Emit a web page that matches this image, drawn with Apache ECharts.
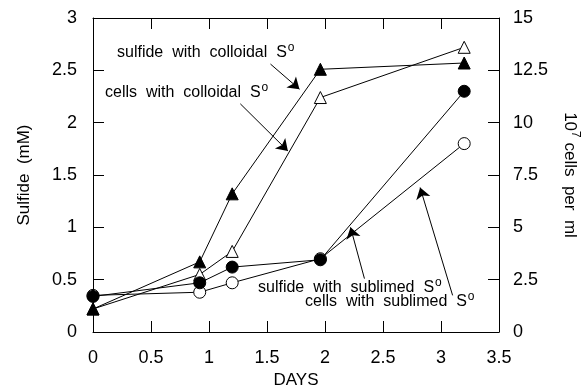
<!DOCTYPE html>
<html>
<head>
<meta charset="utf-8">
<script src="https://cdn.jsdelivr.net/npm/echarts@6/dist/echarts.min.js"></script>
<style>
  html, body { margin: 0; padding: 0; background: #fff; }
  #chart { width: 585px; height: 389px; }
</style>
</head>
<body>
<div id="chart"></div>
<script>
// sampling days
const days = [0, 0.92, 1.2, 1.96, 3.2]
// sulfide (mM), left axis
const sulfideColloidal = [0.22, 0.67, 1.32, 2.51, 2.57]
const sulfideSublimed = [0.34, 0.47, 0.62, 0.69, 2.30]
// 10^7 cells per ml, right axis
const cellsColloidal = [1.1, 2.75, 3.85, 11.2, 13.6]
const cellsSublimed = [1.75, 1.9, 2.35, 3.5, 9.0]

const xTicks = ['0', '0.5', '1', '1.5', '2', '2.5', '3', '3.5']

const font = 'Liberation Sans, Arial, sans-serif'
const pairs = ys => days.map((d, i) => [d, ys[i]])

let myChart = echarts.init(document.getElementById('chart'))

const arrow = (from, to) => [
    { coord: from, symbol: 'none' },
    { coord: to, symbol: 'arrow', symbolSize: 11 }
]

const label = (x, y, txt) => ({
    type: 'text',
    x: x,
    y: y,
    style: {
        text: '{t|' + txt + '}{s|o}',
        verticalAlign: 'middle',
        rich: {
            t: { fontFamily: font, fontSize: 16, fill: '#000' },
            s: { fontFamily: font, fontSize: 12, fill: '#000', padding: [0, 0, 10, 1] }
        }
    }
})

const base = {
    type: 'line',
    smooth: false,
    symbolSize: 12,
    lineStyle: { color: '#000', width: 1 },
    z: 3
}

const tick = { show: true, inside: true, length: 11, lineStyle: { color: '#000' } }
const line = { show: true, onZero: false, lineStyle: { color: '#000', width: 1 } }

myChart.setOption({
    animation: false,
    backgroundColor: '#fff',
    grid: { left: 93, right: 86, top: 18, bottom: 57, outerBoundsMode: 'none' },
    xAxis: [
        {
            type: 'value',
            min: 0, max: 3.5, interval: 0.5,
            name: 'DAYS',
            nameLocation: 'middle',
            nameGap: 38,
            nameTextStyle: { fontFamily: font, fontSize: 17, color: '#000' },
            axisLine: line,
            axisTick: tick,
            axisLabel: {
                fontFamily: font, fontSize: 18, color: '#000', margin: 17,
                formatter: v => xTicks[Math.round(v / 0.5)]
            },
            splitLine: { show: false }
        },
        {
            type: 'value',
            position: 'top',
            min: 0, max: 3.5, interval: 0.5,
            axisLine: line,
            axisTick: tick,
            axisLabel: { show: false },
            splitLine: { show: false }
        }
    ],
    yAxis: [
        {
            type: 'value',
            min: 0, max: 3, interval: 0.5,
            name: 'Sulfide  (mM)',
            nameLocation: 'middle',
            nameGap: 60,
            nameTextStyle: { fontFamily: font, fontSize: 17, color: '#000' },
            axisLine: line,
            axisTick: tick,
            axisLabel: { fontFamily: font, fontSize: 18, color: '#000', margin: 16 },
            splitLine: { show: false }
        },
        {
            type: 'value',
            position: 'right',
            min: 0, max: 15, interval: 2.5,
            name: '{a|10}{s|7}{a| cells  per  ml}',
            nameLocation: 'middle',
            nameRotate: -90,
            nameGap: 60,
            nameTextStyle: {
                color: '#000',
                rich: {
                    a: { fontFamily: font, fontSize: 17, color: '#000' },
                    s: { fontFamily: font, fontSize: 12, color: '#000', padding: [0, 0, 10, 0] }
                }
            },
            axisLine: line,
            axisTick: tick,
            axisLabel: { fontFamily: font, fontSize: 18, color: '#000', margin: 14 },
            splitLine: { show: false }
        }
    ],
    graphic: [
        label(117, 53, 'sulfide  with  colloidal  S'),
        label(105, 93, 'cells  with  colloidal  S'),
        label(258, 288, 'sulfide  with  sublimed  S'),
        label(305, 302, 'cells  with  sublimed  S')
    ],
    series: [
        Object.assign({}, base, {
            name: 'sulfide with sublimed S',
            yAxisIndex: 0,
            symbol: 'circle',
            itemStyle: { color: '#000', borderColor: '#000' },
            data: pairs(sulfideSublimed),
            z: 4,
            markLine: {
                silent: true,
                label: { show: false },
                lineStyle: { color: '#000', width: 1, type: 'solid' },
                data: [
                    arrow([1.53, 2.56], [1.78, 2.32]),
                    arrow([1.27, 2.18], [1.68, 1.73]),
                    arrow([2.34, 0.51], [2.22, 1.0]),
                    arrow([3.10, 0.35], [2.82, 1.38])
                ]
            }
        }),
        Object.assign({}, base, {
            name: 'cells with sublimed S',
            yAxisIndex: 1,
            symbol: 'circle',
            itemStyle: { color: '#fff', borderColor: '#000', borderWidth: 1 },
            data: pairs(cellsSublimed)
        }),
        Object.assign({}, base, {
            name: 'cells with colloidal S',
            yAxisIndex: 1,
            symbol: 'triangle',
            itemStyle: { color: '#fff', borderColor: '#000', borderWidth: 1 },
            data: pairs(cellsColloidal)
        }),
        Object.assign({}, base, {
            name: 'sulfide with colloidal S',
            yAxisIndex: 0,
            symbol: 'triangle',
            itemStyle: { color: '#000', borderColor: '#000' },
            data: pairs(sulfideColloidal)
        })
    ]
})
</script>
</body>
</html>
